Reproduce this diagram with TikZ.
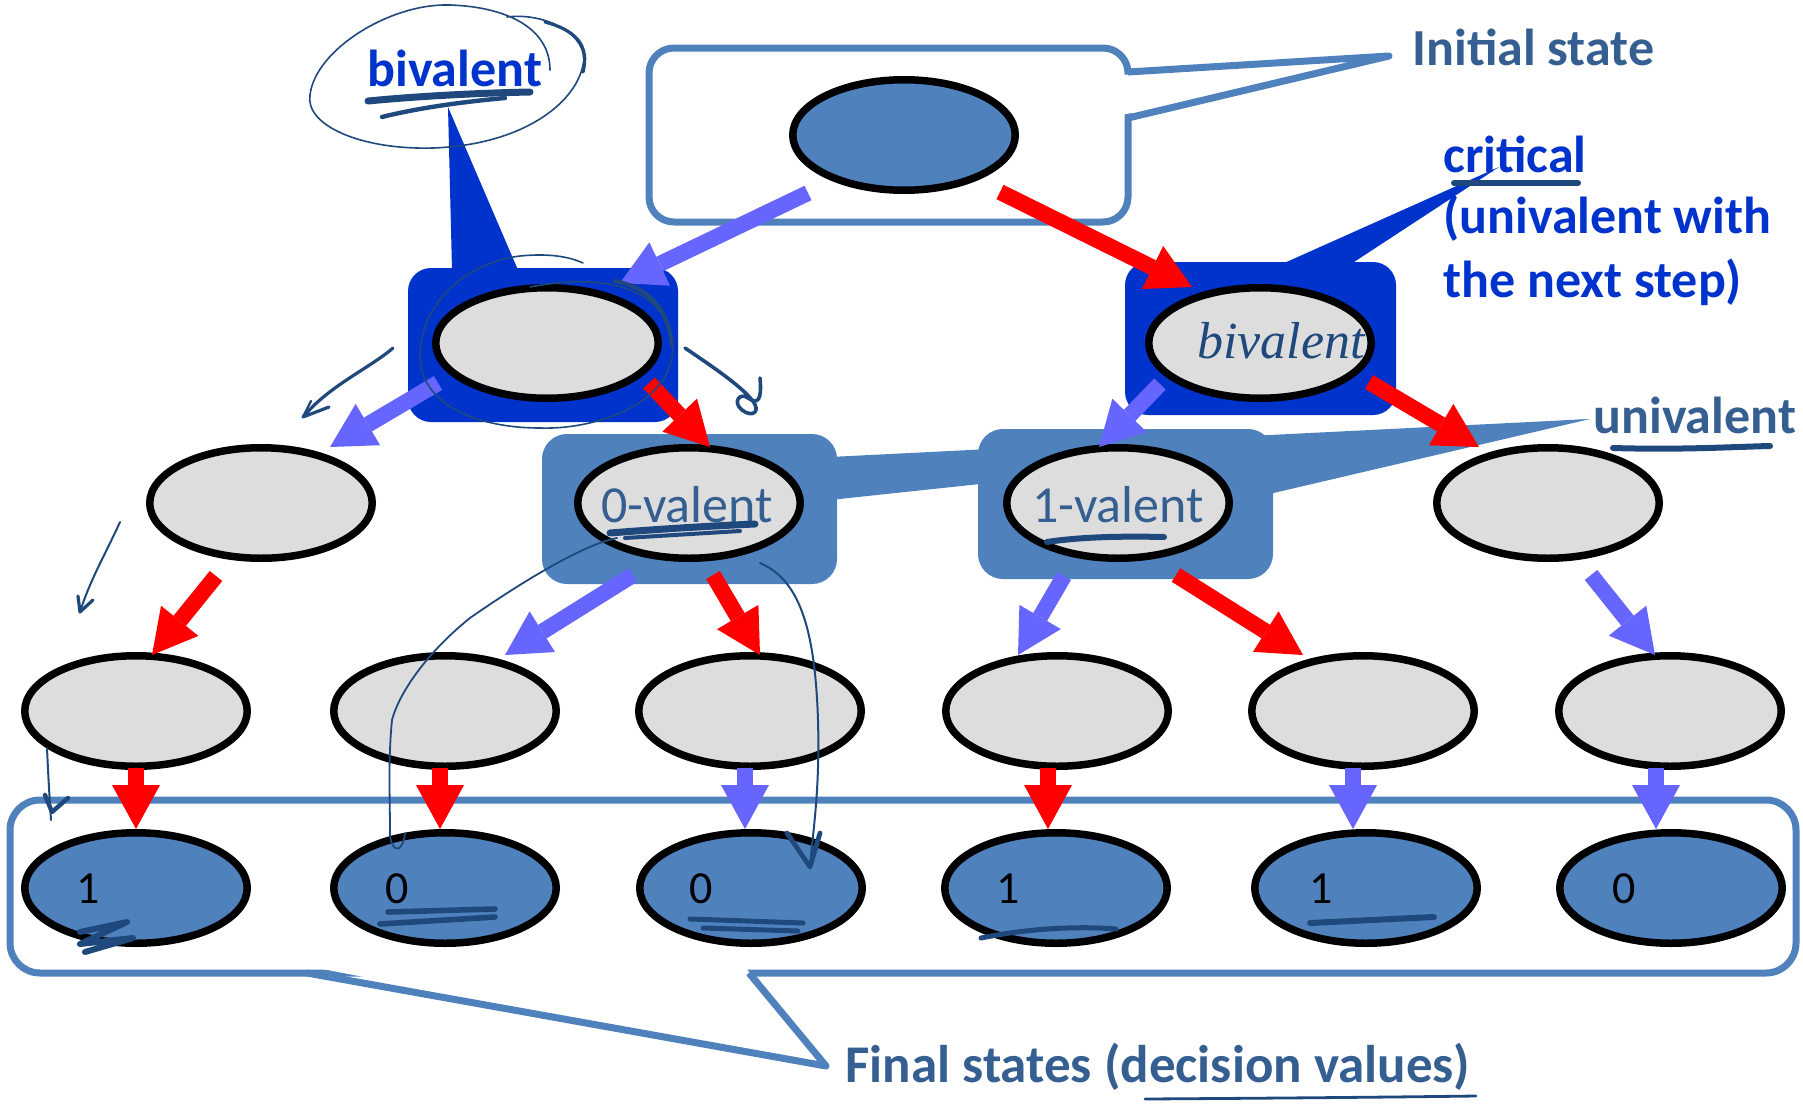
\documentclass[tikz,border=0pt]{standalone}
\usepackage{fontspec}
\setmainfont{Carlito}
\newfontfamily\handfont{Liberation Serif}
\usetikzlibrary{arrows.meta,shapes.geometric}

\definecolor{steel}{HTML}{4F81BD}
\definecolor{royal}{HTML}{0033CC}
\definecolor{statefill}{HTML}{DDDDDD}
\definecolor{lav}{HTML}{6666FF}
\definecolor{labeltext}{HTML}{365F91}
\definecolor{ink}{HTML}{1F497D}

\tikzset{
  state/.style={ellipse, draw=black, line width=3.75pt, minimum width=111.25pt,
    minimum height=55.25pt, inner sep=0pt},
  inner/.style={state, fill=statefill},
  final/.style={state, fill=steel},
  calloutline/.style={draw=steel, line width=3.5pt, line join=round},
  bigarrow/.style={line width=8pt, line cap=butt,
    -{Triangle[length=22pt,width=24pt,line width=0pt]}},
  redarr/.style={bigarrow, draw=red},
  bluearr/.style={bigarrow, draw=lav},
  lbl/.style={inner sep=0pt, anchor=base west, font=\bfseries\fontsize{26}{31}\selectfont},
  vallbl/.style={inner sep=0pt, anchor=base, text=labeltext, font=\fontsize{26}{31}\selectfont},
  digit/.style={inner sep=0pt, anchor=base, text=black, font=\fontsize{23}{27}\selectfont},
  inkpen/.style={draw=ink, line cap=round, line join=round},
}

\begin{document}
\begin{tikzpicture}[x=0.5pt, y=-0.5pt]
\useasboundingbox (0,0) rectangle (1803,1103);

% ---- callout: initial state ----
\draw[calloutline, fill=white, rounded corners=12.5pt] (649,48) rectangle (1128,222);
\fill[white] (1122,75) -- (1389,56) -- (1122,115) -- cycle;
\draw[calloutline] (1128,72) -- (1389,56) -- (1128,118);

% ---- callout: final states ----
\draw[calloutline, fill=white, rounded corners=15pt] (10,800) rectangle (1796,973);
\fill[white] (312,967) -- (826,1066) -- (745,967) -- cycle;
\draw[calloutline] (307,973) -- (826,1066) -- (749,973);

% ---- bivalent / critical highlight boxes ----
\fill[royal, rounded corners=11.5pt] (408,268) rectangle (678,422);
\fill[royal] (452,270) -- (448,107) -- (518,270) -- cycle;
\fill[royal, rounded corners=11.5pt] (1125,262) rectangle (1396,415);
\fill[royal] (1282,264) -- (1499,167) -- (1351,264) -- cycle;

% ---- univalent highlight boxes ----
\fill[steel] (830,457) -- (1590,419) -- (830,500) -- cycle;
\fill[steel] (1265,440) -- (1590,419) -- (1265,495) -- cycle;
\fill[steel, rounded corners=12.5pt] (542,434) rectangle (837,584);
\fill[steel, rounded corners=12.5pt] (978,429) rectangle (1273,579);

% ---- states ----
\node[final] (top) at (904,135) {};
\node[inner] (la) at (547,343) {};
\node[inner] (lb) at (1260,343) {};
\node[inner] (na) at (261,503) {};
\node[inner] (nb) at (689,503) {};
\node[inner] (nc) at (1118,503) {};
\node[inner] (nd) at (1548,503) {};
\node[inner] (e1) at (136,711) {};
\node[inner] (e2) at (445,711) {};
\node[inner] (e3) at (750,711) {};
\node[inner] (e4) at (1057,711) {};
\node[inner] (e5) at (1363,711) {};
\node[inner] (e6) at (1670,711) {};
\node[final] (f1) at (136,888) {};
\node[final] (f2) at (445,888) {};
\node[final] (f3) at (751,888) {};
\node[final] (f4) at (1056,888) {};
\node[final] (f5) at (1366,888) {};
\node[final] (f6) at (1671,888) {};

% ---- valency labels and decision values ----
\node[vallbl] (vb) at ([shift={(-2,19)}]nb.center) {0-valent};
\node[vallbl] (vc) at ([shift={(0,19)}]nc.center) {1-valent};
\node[digit] (d1) at ([shift={(-48,15)}]f1.center) {1};
\node[digit] (d2) at ([shift={(-48,15)}]f2.center) {0};
\node[digit] (d3) at ([shift={(-50,15)}]f3.center) {0};
\node[digit] (d4) at ([shift={(-48,15)}]f4.center) {1};
\node[digit] (d5) at ([shift={(-45,15)}]f5.center) {1};
\node[digit] (d6) at ([shift={(-47,15)}]f6.center) {0};

% ---- transitions ----
\draw[bluearr] ([shift={(-96,58)}]top.center) -- ([shift={(73,-60)}]la.center);
\draw[redarr]  ([shift={(96,57)}]top.center)  -- ([shift={(-68,-56)}]lb.center);
\draw[bluearr] ([shift={(-109,40)}]la.center) -- ([shift={(69,-56)}]na.center);
\draw[redarr]  ([shift={(102,40)}]la.center)  -- ([shift={(21,-56)}]nb.center);
\draw[bluearr] ([shift={(-100,41)}]lb.center) -- ([shift={(-19,-56)}]nc.center);
\draw[redarr]  ([shift={(109,39)}]lb.center)  -- ([shift={(-69,-56)}]nd.center);
\draw[redarr]  ([shift={(-45,73)}]na.center)  -- ([shift={(16,-56)}]e1.center);
\draw[bluearr] ([shift={(-56,72)}]nb.center)  -- ([shift={(60,-56)}]e2.center);
\draw[redarr]  ([shift={(24,72)}]nb.center)   -- ([shift={(10,-56)}]e3.center);
\draw[bluearr] ([shift={(-54,73)}]nc.center)  -- ([shift={(-39,-56)}]e4.center);
\draw[redarr]  ([shift={(58,72)}]nc.center)   -- ([shift={(-60,-56)}]e5.center);
\draw[bluearr] ([shift={(43,72)}]nd.center)   -- ([shift={(-15,-56)}]e6.center);
\draw[redarr]  ([shift={(0,57)}]e1.center)   -- ([shift={(0,-59)}]f1.center);
\draw[redarr]  ([shift={(-5,57)}]e2.center)  -- ([shift={(-5,-59)}]f2.center);
\draw[bluearr] ([shift={(-5,57)}]e3.center)  -- ([shift={(-6,-59)}]f3.center);
\draw[redarr]  ([shift={(-9,57)}]e4.center)  -- ([shift={(-8,-59)}]f4.center);
\draw[bluearr] ([shift={(-10,57)}]e5.center) -- ([shift={(-13,-59)}]f5.center);
\draw[bluearr] ([shift={(-14,57)}]e6.center) -- ([shift={(-15,-59)}]f6.center);

% ---- labels ----
\node[lbl, text=labeltext] (tinit) at (1412,65) {Initial state};
\node[lbl, text=royal] (tbiv) at (367,86) {bivalent};
\node[lbl, text=royal] (tcrit1) at (1443,172) {critical};
\node[lbl, text=royal] (tcrit2) at (1443,233) {(univalent with};
\node[lbl, text=royal] (tcrit3) at (1443,297) {the next step)};
\node[lbl, text=labeltext] (tuni) at (1593,433) {univalent};
\node[lbl, text=labeltext, font=\bfseries\fontsize{26.5}{31}\selectfont] (tfinal) at (845,1082) {Final states (decision values)};
\node[anchor=base, inner sep=0pt, text=ink, font=\handfont\itshape\fontsize{26}{30}\selectfont]
  (hbiv) at ([shift={(21,15)}]lb.center) {bivalent};

% ---- pen annotations ----
% loop round the bivalent label
\draw[inkpen, line width=0.8pt] (507,17) .. controls (545,12) and (590,35) .. (583,65)
  .. controls (575,105) and (520,145) .. (433,148)
  .. controls (360,150) and (305,125) .. (310,95)
  .. controls (315,50) and (390,3) .. (450,5)
  .. controls (510,7) and (550,30) .. (550,70);
\draw[inkpen, line width=1.6pt] (545,22) .. controls (575,30) and (590,45) .. (583,72);
\draw[inkpen, line width=3.5pt] (368,101) .. controls (420,96) and (480,93) .. (530,92);
\draw[inkpen, line width=2.2pt] (382,117) .. controls (410,110) and (450,103) .. (505,98);
% loop round the left bivalent state
\draw[inkpen, line width=0.8pt] (530,287) .. controls (580,277) and (660,275) .. (672,340)
  .. controls (680,400) and (600,430) .. (540,428)
  .. controls (470,428) and (420,400) .. (420,357)
  .. controls (420,300) and (470,262) .. (520,256)
  .. controls (550,253) and (570,257) .. (583,263);
\draw[inkpen, line width=2pt] (615,281) .. controls (650,288) and (668,310) .. (672,345);
% its two outgoing pen arrows
\draw[inkpen, line width=1.6pt] (393,348) .. controls (370,368) and (330,385) .. (303,417)
  -- (329,407);
\draw[inkpen, line width=1.2pt] (303,417) -- (311,401);
\draw[inkpen, line width=1.8pt] (685,348) .. controls (710,365) and (740,385) .. (752,400)
  .. controls (762,412) and (752,418) .. (742,410)
  .. controls (732,402) and (740,392) .. (748,398)
  .. controls (758,405) and (762,400) .. (760,378);
% pen arrow left of the level-two state
\draw[inkpen, line width=1pt] (120,522) .. controls (105,555) and (90,580) .. (80,612);
\draw[inkpen, line width=1.6pt] (78,596) -- (80,612) -- (93,600);
% pen mark below the first level-three state
\draw[inkpen, line width=1pt] (47,748) .. controls (48,770) and (49,790) .. (51,820);
\draw[inkpen, line width=2.2pt] (45,795) -- (52,812) -- (68,798);
% long pen strokes from the 0-valent state
\draw[inkpen, line width=0.9pt] (617,538) .. controls (580,545) and (510,590) .. (470,618)
  .. controls (430,650) and (400,690) .. (392,720)
  .. controls (388,760) and (390,800) .. (390,830)
  .. controls (389,850) and (402,858) .. (405,833);
\draw[inkpen, line width=1pt] (760,563) .. controls (800,580) and (815,630) .. (818,720)
  .. controls (820,790) and (813,830) .. (810,867);
\draw[inkpen, line width=2.4pt] (787,833) -- (810,867) -- (820,833);
% underlines
\draw[inkpen, line width=3pt] (1454,183) -- (1578,183);
\draw[inkpen, line width=3pt] (1613,448) .. controls (1680,450) and (1730,447) .. (1770,446);
\draw[inkpen, line width=1.4pt] (1145,1099) .. controls (1300,1098) and (1400,1097) .. (1476,1096);
\draw[inkpen, line width=3.5pt] (610,533) .. controls (660,529) and (710,526) .. (755,524);
\draw[inkpen, line width=2pt] (625,538) -- (740,531);
\draw[inkpen, line width=3pt] (1047,542) .. controls (1080,537) and (1120,536) .. (1164,537);
\draw[inkpen, line width=3pt] (80,932) -- (127,922) -- (80,944) -- (133,938) -- (85,952);
\draw[inkpen, line width=2.8pt] (388,912) -- (495,909);
\draw[inkpen, line width=2.8pt] (380,924) -- (495,917);
\draw[inkpen, line width=2.5pt] (690,919) -- (803,923);
\draw[inkpen, line width=2.5pt] (703,928) -- (798,931);
\draw[inkpen, line width=2.5pt] (981,938) .. controls (1030,928) and (1080,926) .. (1116,929);
\draw[inkpen, line width=3pt] (1310,923) -- (1434,917);
\end{tikzpicture}
\end{document}
